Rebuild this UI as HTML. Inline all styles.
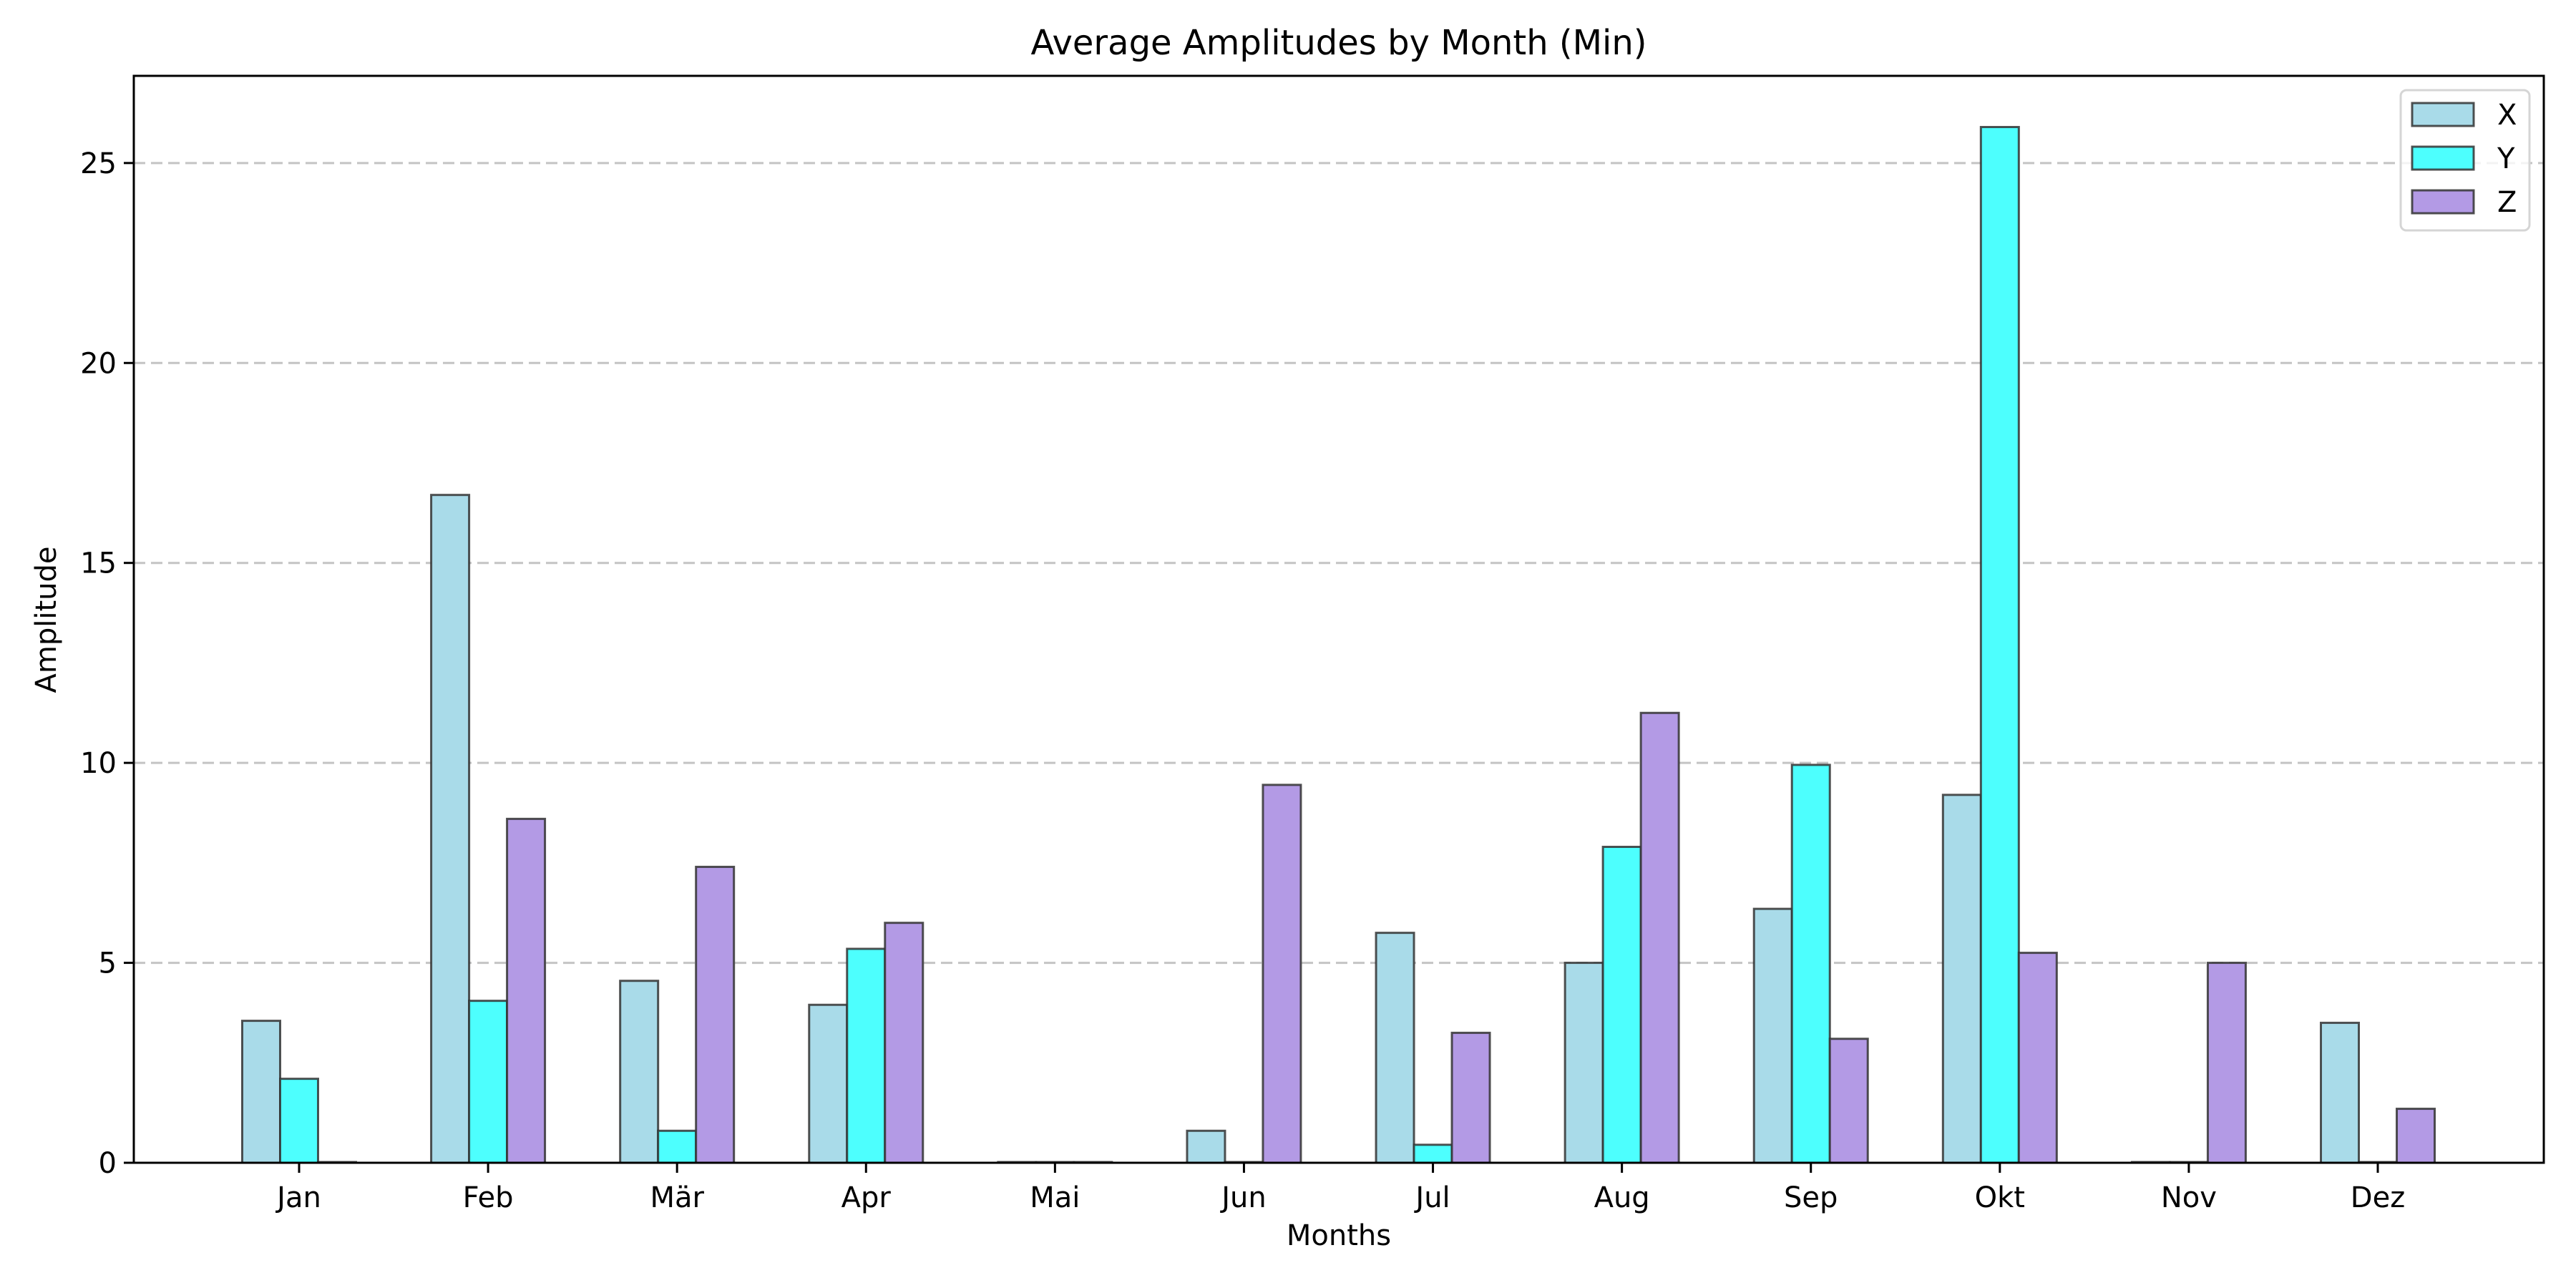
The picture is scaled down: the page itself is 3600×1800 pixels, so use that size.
<!DOCTYPE html>
<html><head><meta charset="utf-8"><style>
html,body{margin:0;padding:0;background:#fff;}
svg{display:block;font-family:"DejaVu Sans","Liberation Sans",sans-serif;}
</style></head><body>
<svg id="chart" width="3600" height="1800" viewBox="0 0 3600 1800" xmlns="http://www.w3.org/2000/svg">
<rect x="0" y="0" width="3600" height="1800" fill="#fff"/>
<text x="1871" y="76" font-size="48" text-anchor="middle">Average Amplitudes by Month (Min)</text>
<text x="1871" y="1740" font-size="40" text-anchor="middle">Months</text>
<text transform="translate(78,866) rotate(-90)" font-size="40" text-anchor="middle">Amplitude</text>
<g id="grid"></g><g id="bars"></g><g id="ticks"></g>
<rect x="187" y="106" width="3368" height="1519" fill="none" stroke="#000" stroke-width="3"/>
<g>
<rect x="3355" y="126" width="180" height="196" fill="#fff" fill-opacity="0.8" stroke="#d5d5d5" stroke-width="3" rx="8"/>
<rect x="3371" y="144" width="86" height="32" fill="#a9dbe9" stroke="#333" stroke-opacity="0.85" stroke-width="3"/>
<text x="3490" y="174" font-size="40">X</text>
<rect x="3371" y="205" width="86" height="32" fill="#4dfffe" stroke="#333" stroke-opacity="0.85" stroke-width="3"/>
<text x="3490" y="235" font-size="40">Y</text>
<rect x="3371" y="266" width="86" height="32" fill="#b39ae5" stroke="#333" stroke-opacity="0.85" stroke-width="3"/>
<text x="3490" y="296" font-size="40">Z</text>
</g>
</svg>
<script>
const months = ["Jan","Feb","Mär","Apr","Mai","Jun","Jul","Aug","Sep","Okt","Nov","Dez"];
const seriesX = [3.55,16.7,4.55,3.95,0,0.8,5.75,5.0,6.35,9.2,0,3.5];
const seriesY = [2.1,4.05,0.8,5.35,0,0,0.45,7.9,9.95,25.9,0,0];
const seriesZ = [0,8.6,7.4,6.0,0,9.45,3.25,11.25,3.1,5.25,5.0,1.35];
const yTicks = [0,5,10,15,20,25];
const NS="http://www.w3.org/2000/svg";
const plotL=187,plotR=3555,plotT=106,plotB=1625,yMax=27.18;
const yS=v=>plotB-(v/yMax)*(plotB-plotT);
const xS=i=>418+i*(3323-418)/11;
const bw=53;
function mk(tag,attrs,parent){const e=document.createElementNS(NS,tag);for(const k in attrs)e.setAttribute(k,attrs[k]);parent.appendChild(e);return e;}
const grid=document.getElementById('grid'),bars=document.getElementById('bars'),ticks=document.getElementById('ticks');
yTicks.forEach(t=>{
  const y=yS(t);
  if(t>0){const g=mk('line',{x1:plotL,x2:plotR,y1:y,y2:y,stroke:'#c4c4c4','stroke-dasharray':'16,8','stroke-width':3},grid);
  
  }
  const l=mk('line',{x1:plotL-14,x2:plotL,y1:y,y2:y,stroke:'#000','stroke-width':3},ticks);
  
  
  const tx=mk('text',{x:plotL-24,y:y+14,'font-size':40,'text-anchor':'end'},ticks);tx.textContent=t;
  
  
});
const series=[[seriesX,'#a9dbe9',-1,'x'],[seriesY,'#4dfffe',0,'y'],[seriesZ,'#b39ae5',1,'z']];
months.forEach((m,i)=>{
  series.forEach(([vals,col,off,nm])=>{
    const x=xS(i)+off*bw-bw/2,y=yS(vals[i]);
    const h=Math.max(plotB-y,1);
    const r=mk('rect',{x:x,y:plotB-h,width:bw,height:h,fill:col,stroke:'#333','stroke-opacity':0.85,'stroke-width':3},bars);
    
    
  });
  const l=mk('line',{x1:xS(i),x2:xS(i),y1:plotB,y2:plotB+14,stroke:'#000','stroke-width':3},ticks);
  
  
  const tx=mk('text',{x:xS(i),y:plotB+62,'font-size':40,'text-anchor':'middle'},ticks);tx.textContent=m;
  
  
});
</script>
</body></html>
